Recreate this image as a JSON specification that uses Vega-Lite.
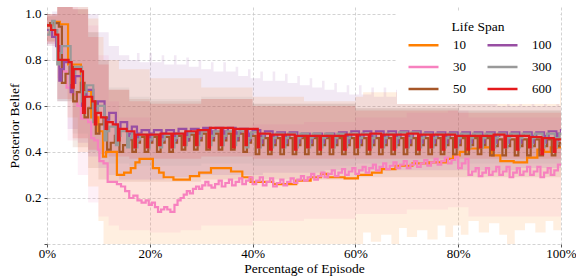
{
"$schema": "https://vega.github.io/schema/vega-lite/v6.json",
"width": 514, "height": 237,
"autosize": {"type": "none"},
"padding": {"left": 47, "top": 7, "right": 15, "bottom": 32},
"config": {
 "font": "Liberation Serif",
 "view": {"stroke": null},
 "axis": {"domain": false, "grid": true, "gridColor": "#c8c8c8", "gridDash": [3, 2], "gridWidth": 0.8, "tickColor": "#555555", "tickSize": 3, "labelFont": "Liberation Serif", "labelFontSize": 13, "labelColor": "#000000", "labelFlush": false, "titleFont": "Liberation Serif", "titleFontSize": 13.5, "titleFontWeight": "normal", "titleColor": "#000000"},
 "legend": {"labelFont": "Liberation Serif", "titleFont": "Liberation Serif", "titleFontWeight": "normal", "labelColor": "#000000", "titleColor": "#000000"}
},
"datasets": {
"bands": [
{"s":"10","p":0,"lo":0.88,"hi":0.99},{"s":"10","p":2,"lo":0.8,"hi":1.03},{"s":"10","p":4,"lo":0.55,"hi":1.03},{"s":"10","p":6,"lo":0.4,"hi":1.03},{"s":"10","p":8,"lo":0.25,"hi":0.98},{"s":"10","p":10,"lo":0.1,"hi":0.9},{"s":"10","p":11,"lo":0,"hi":0.8},{"s":"10","p":14,"lo":0,"hi":0.76},{"s":"10","p":20,"lo":0,"hi":0.72},{"s":"10","p":30,"lo":0,"hi":0.68},{"s":"10","p":40,"lo":0,"hi":0.64},{"s":"10","p":50,"lo":0,"hi":0.62},{"s":"10","p":60,"lo":0,"hi":0.64},{"s":"10","p":61.5,"lo":0.05,"hi":0.66},{"s":"10","p":63,"lo":0.01,"hi":0.66},{"s":"10","p":65,"lo":0.04,"hi":0.66},{"s":"10","p":67,"lo":0,"hi":0.66},{"s":"10","p":68.5,"lo":0.07,"hi":0.67},{"s":"10","p":70,"lo":0.03,"hi":0.67},{"s":"10","p":72,"lo":0.06,"hi":0.68},{"s":"10","p":74,"lo":0.02,"hi":0.68},{"s":"10","p":76,"lo":0.08,"hi":0.68},{"s":"10","p":77.5,"lo":0.03,"hi":0.7},{"s":"10","p":79,"lo":0.08,"hi":0.7},{"s":"10","p":80.5,"lo":0.04,"hi":0.7},{"s":"10","p":82,"lo":0.1,"hi":0.7},{"s":"10","p":84,"lo":0.05,"hi":0.7},{"s":"10","p":86,"lo":0.09,"hi":0.69},{"s":"10","p":88,"lo":0.04,"hi":0.69},{"s":"10","p":89.5,"lo":0,"hi":0.69},{"s":"10","p":91,"lo":0.06,"hi":0.7},{"s":"10","p":93,"lo":0.09,"hi":0.7},{"s":"10","p":95,"lo":0.05,"hi":0.71},{"s":"10","p":97,"lo":0.1,"hi":0.72},{"s":"10","p":98.5,"lo":0.06,"hi":0.72},{"s":"10","p":100,"lo":0.06,"hi":0.72},
{"s":"30","p":0,"lo":0.86,"hi":1.0},{"s":"30","p":2,"lo":0.72,"hi":1.03},{"s":"30","p":4,"lo":0.45,"hi":1.03},{"s":"30","p":6,"lo":0.3,"hi":1.0},{"s":"30","p":8,"lo":0.18,"hi":0.95},{"s":"30","p":10,"lo":0.12,"hi":0.82},{"s":"30","p":12,"lo":0.08,"hi":0.62},{"s":"30","p":14,"lo":0.06,"hi":0.55},{"s":"30","p":20,"lo":0.05,"hi":0.48},{"s":"30","p":26,"lo":0.06,"hi":0.48},{"s":"30","p":30,"lo":0.08,"hi":0.5},{"s":"30","p":40,"lo":0.1,"hi":0.52},{"s":"30","p":50,"lo":0.11,"hi":0.53},{"s":"30","p":60,"lo":0.13,"hi":0.55},{"s":"30","p":70,"lo":0.15,"hi":0.57},{"s":"30","p":78,"lo":0.16,"hi":0.58},{"s":"30","p":82,"lo":0.12,"hi":0.55},{"s":"30","p":90,"lo":0.12,"hi":0.55},{"s":"30","p":100,"lo":0.13,"hi":0.54},
{"s":"50","p":0,"lo":0.88,"hi":1.0},{"s":"50","p":2,"lo":0.62,"hi":1.03},{"s":"50","p":5,"lo":0.42,"hi":1.02},{"s":"50","p":8,"lo":0.33,"hi":0.92},{"s":"50","p":10,"lo":0.28,"hi":0.8},{"s":"50","p":12,"lo":0.27,"hi":0.67},{"s":"50","p":16,"lo":0.27,"hi":0.63},{"s":"50","p":20,"lo":0.27,"hi":0.62},{"s":"50","p":30,"lo":0.28,"hi":0.63},{"s":"50","p":40,"lo":0.28,"hi":0.61},{"s":"50","p":60,"lo":0.29,"hi":0.59},{"s":"50","p":80,"lo":0.29,"hi":0.58},{"s":"50","p":100,"lo":0.29,"hi":0.58},
{"s":"100","p":0,"lo":0.87,"hi":0.99},{"s":"100","p":1,"lo":0.8,"hi":1.01},{"s":"100","p":2,"lo":0.62,"hi":1.03},{"s":"100","p":4,"lo":0.5,"hi":1.03},{"s":"100","p":6,"lo":0.44,"hi":1.03},{"s":"100","p":8,"lo":0.38,"hi":1.0},{"s":"100","p":10,"lo":0.33,"hi":0.92},{"s":"100","p":12,"lo":0.3,"hi":0.86},{"s":"100","p":14,"lo":0.28,"hi":0.82},{"s":"100","p":16,"lo":0.28,"hi":0.8},
{"s":"100","p":17.5,"lo":0.28,"hi":0.83},{"s":"100","p":18,"lo":0.28,"hi":0.79},{"s":"100","p":19.9,"lo":0.28,"hi":0.83},{"s":"100","p":20.4,"lo":0.28,"hi":0.79},{"s":"100","p":22.3,"lo":0.28,"hi":0.82},{"s":"100","p":22.8,"lo":0.29,"hi":0.78},{"s":"100","p":24.7,"lo":0.29,"hi":0.82},{"s":"100","p":25.2,"lo":0.29,"hi":0.78},{"s":"100","p":27.1,"lo":0.29,"hi":0.81},{"s":"100","p":27.6,"lo":0.3,"hi":0.77},{"s":"100","p":29.5,"lo":0.3,"hi":0.8},{"s":"100","p":30,"lo":0.3,"hi":0.76},{"s":"100","p":31.9,"lo":0.3,"hi":0.79},{"s":"100","p":32.4,"lo":0.3,"hi":0.75},{"s":"100","p":34.3,"lo":0.3,"hi":0.79},{"s":"100","p":34.8,"lo":0.3,"hi":0.75},{"s":"100","p":36.7,"lo":0.3,"hi":0.77},{"s":"100","p":37.2,"lo":0.3,"hi":0.73},{"s":"100","p":39.1,"lo":0.3,"hi":0.76},{"s":"100","p":39.6,"lo":0.3,"hi":0.72},{"s":"100","p":41.5,"lo":0.3,"hi":0.75},{"s":"100","p":42,"lo":0.31,"hi":0.71},{"s":"100","p":43.9,"lo":0.31,"hi":0.75},{"s":"100","p":44.4,"lo":0.31,"hi":0.71},{"s":"100","p":46.3,"lo":0.31,"hi":0.74},{"s":"100","p":46.8,"lo":0.31,"hi":0.7},{"s":"100","p":48.7,"lo":0.31,"hi":0.73},{"s":"100","p":49.2,"lo":0.31,"hi":0.69},{"s":"100","p":51.1,"lo":0.31,"hi":0.72},{"s":"100","p":51.6,"lo":0.31,"hi":0.68},{"s":"100","p":53.5,"lo":0.31,"hi":0.71},{"s":"100","p":54,"lo":0.32,"hi":0.67},{"s":"100","p":55.9,"lo":0.32,"hi":0.7},{"s":"100","p":56.4,"lo":0.32,"hi":0.66},{"s":"100","p":58.3,"lo":0.32,"hi":0.69},{"s":"100","p":58.8,"lo":0.32,"hi":0.65},{"s":"100","p":60.7,"lo":0.32,"hi":0.69},{"s":"100","p":61.2,"lo":0.32,"hi":0.65},{"s":"100","p":63.1,"lo":0.32,"hi":0.68},{"s":"100","p":63.6,"lo":0.32,"hi":0.64},{"s":"100","p":65.5,"lo":0.32,"hi":0.68},{"s":"100","p":66,"lo":0.32,"hi":0.64},{"s":"100","p":67.9,"lo":0.32,"hi":0.67},{"s":"100","p":68.4,"lo":0.32,"hi":0.63},{"s":"100","p":70.3,"lo":0.32,"hi":0.67},{"s":"100","p":70.8,"lo":0.32,"hi":0.63},{"s":"100","p":72.7,"lo":0.32,"hi":0.66},{"s":"100","p":73.2,"lo":0.32,"hi":0.62},{"s":"100","p":75.1,"lo":0.32,"hi":0.66},{"s":"100","p":75.6,"lo":0.32,"hi":0.62},{"s":"100","p":77.5,"lo":0.32,"hi":0.65},{"s":"100","p":78,"lo":0.32,"hi":0.62},{"s":"100","p":79.9,"lo":0.32,"hi":0.65},{"s":"100","p":80.4,"lo":0.32,"hi":0.61},{"s":"100","p":82.3,"lo":0.32,"hi":0.65},{"s":"100","p":82.8,"lo":0.32,"hi":0.61},{"s":"100","p":84.7,"lo":0.32,"hi":0.64},{"s":"100","p":85.2,"lo":0.32,"hi":0.61},{"s":"100","p":87.1,"lo":0.32,"hi":0.64},{"s":"100","p":87.6,"lo":0.32,"hi":0.6},{"s":"100","p":89.5,"lo":0.32,"hi":0.64},{"s":"100","p":90,"lo":0.32,"hi":0.6},{"s":"100","p":91.9,"lo":0.33,"hi":0.63},{"s":"100","p":92.4,"lo":0.33,"hi":0.6},{"s":"100","p":94.3,"lo":0.33,"hi":0.63},{"s":"100","p":94.8,"lo":0.33,"hi":0.6},{"s":"100","p":96.7,"lo":0.33,"hi":0.63},{"s":"100","p":97.2,"lo":0.33,"hi":0.6},{"s":"100","p":99.1,"lo":0.33,"hi":0.63},{"s":"100","p":99.6,"lo":0.33,"hi":0.6},{"s":"100","p":100,"lo":0.33,"hi":0.6},
{"s":"300","p":0,"lo":0.86,"hi":1.0},{"s":"300","p":2,"lo":0.62,"hi":1.03},{"s":"300","p":5,"lo":0.48,"hi":1.02},{"s":"300","p":8,"lo":0.4,"hi":0.92},{"s":"300","p":10,"lo":0.37,"hi":0.8},{"s":"300","p":12,"lo":0.35,"hi":0.68},{"s":"300","p":16,"lo":0.34,"hi":0.64},{"s":"300","p":20,"lo":0.34,"hi":0.63},{"s":"300","p":30,"lo":0.35,"hi":0.64},{"s":"300","p":40,"lo":0.34,"hi":0.61},{"s":"300","p":60,"lo":0.35,"hi":0.59},{"s":"300","p":80,"lo":0.35,"hi":0.58},{"s":"300","p":100,"lo":0.35,"hi":0.58},
{"s":"600","p":0,"lo":0.87,"hi":1.0},{"s":"600","p":2,"lo":0.63,"hi":1.03},{"s":"600","p":5,"lo":0.46,"hi":1.02},{"s":"600","p":8,"lo":0.41,"hi":0.9},{"s":"600","p":10,"lo":0.39,"hi":0.78},{"s":"600","p":12,"lo":0.38,"hi":0.67},{"s":"600","p":16,"lo":0.37,"hi":0.62},{"s":"600","p":20,"lo":0.37,"hi":0.61},{"s":"600","p":30,"lo":0.38,"hi":0.63},{"s":"600","p":40,"lo":0.37,"hi":0.6},{"s":"600","p":60,"lo":0.37,"hi":0.58},{"s":"600","p":80,"lo":0.37,"hi":0.57},{"s":"600","p":100,"lo":0.37,"hi":0.57}
],
"lines": [
{"s":"10","p":0,"v":0.95},{"s":"10","p":1.2,"v":0.965},{"s":"10","p":2.5,"v":0.955},{"s":"10","p":4.1,"v":0.78},{"s":"10","p":6.6,"v":0.665},{"s":"10","p":8.6,"v":0.55},{"s":"10","p":10,"v":0.49},{"s":"10","p":10.9,"v":0.38},{"s":"10","p":11.5,"v":0.4},{"s":"10","p":13.6,"v":0.3},{"s":"10","p":15,"v":0.31},{"s":"10","p":16.3,"v":0.33},{"s":"10","p":17.2,"v":0.355},{"s":"10","p":18,"v":0.37},{"s":"10","p":20.6,"v":0.33},{"s":"10","p":21.8,"v":0.31},{"s":"10","p":22.7,"v":0.29},{"s":"10","p":24.6,"v":0.28},{"s":"10","p":27.8,"v":0.295},{"s":"10","p":29.6,"v":0.31},{"s":"10","p":31.9,"v":0.33},{"s":"10","p":35.8,"v":0.315},{"s":"10","p":38,"v":0.29},{"s":"10","p":39.6,"v":0.27},{"s":"10","p":44,"v":0.26},{"s":"10","p":48.5,"v":0.275},{"s":"10","p":51.3,"v":0.29},{"s":"10","p":53.3,"v":0.305},{"s":"10","p":54.6,"v":0.29},{"s":"10","p":57.9,"v":0.285},{"s":"10","p":60.5,"v":0.3},{"s":"10","p":63.2,"v":0.31},{"s":"10","p":65.1,"v":0.325},{"s":"10","p":67.8,"v":0.34},{"s":"10","p":71.1,"v":0.35},{"s":"10","p":74.3,"v":0.355},{"s":"10","p":77.6,"v":0.37},{"s":"10","p":79,"v":0.385},{"s":"10","p":80.3,"v":0.4},{"s":"10","p":81.6,"v":0.415},{"s":"10","p":84.2,"v":0.42},{"s":"10","p":86.6,"v":0.385},{"s":"10","p":88.2,"v":0.36},{"s":"10","p":90.8,"v":0.355},{"s":"10","p":93.4,"v":0.375},{"s":"10","p":95.4,"v":0.41},{"s":"10","p":96.7,"v":0.4},{"s":"10","p":98,"v":0.42},{"s":"10","p":100,"v":0.42},
{"s":"30","p":0,"v":0.93},{"s":"30","p":1,"v":0.9},{"s":"30","p":2,"v":0.86},{"s":"30","p":3,"v":0.75},{"s":"30","p":3.8,"v":0.68},{"s":"30","p":4.9,"v":0.65},{"s":"30","p":5.9,"v":0.6},{"s":"30","p":6.6,"v":0.545},{"s":"30","p":8,"v":0.53},{"s":"30","p":8.6,"v":0.46},{"s":"30","p":9.2,"v":0.45},{"s":"30","p":9.9,"v":0.41},{"s":"30","p":10.2,"v":0.36},{"s":"30","p":11,"v":0.35},{"s":"30","p":11.8,"v":0.27},{"s":"30","p":12.8,"v":0.27},{"s":"30","p":13.6,"v":0.26},{"s":"30","p":14.4,"v":0.25},{"s":"30","p":15.2,"v":0.23},{"s":"30","p":16,"v":0.2},{"s":"30","p":16.8,"v":0.21},{"s":"30","p":17.6,"v":0.19},{"s":"30","p":18.4,"v":0.18},{"s":"30","p":19.2,"v":0.19},{"s":"30","p":19.8,"v":0.17},{"s":"30","p":20.4,"v":0.18},{"s":"30","p":21,"v":0.16},{"s":"30","p":21.6,"v":0.14},{"s":"30","p":22.2,"v":0.15},{"s":"30","p":22.8,"v":0.16},{"s":"30","p":23.4,"v":0.15},{"s":"30","p":24,"v":0.14},{"s":"30","p":24.8,"v":0.17},{"s":"30","p":25.4,"v":0.19},{"s":"30","p":26,"v":0.2},{"s":"30","p":26.6,"v":0.215},{"s":"30","p":27.2,"v":0.23},{"s":"30","p":27.8,"v":0.22},{"s":"30","p":28.4,"v":0.24},{"s":"30","p":29,"v":0.25},{"s":"30","p":29.6,"v":0.24},{"s":"30","p":30.2,"v":0.255},{"s":"30","p":30.8,"v":0.27},{"s":"30","p":31.4,"v":0.255},
{"s":"30","p":32,"v":0.245},{"s":"30","p":32.7,"v":0.26},{"s":"30","p":33.4,"v":0.275},
{"s":"30","p":34,"v":0.25},{"s":"30","p":34.7,"v":0.265},{"s":"30","p":35.4,"v":0.28},
{"s":"30","p":36,"v":0.255},{"s":"30","p":36.7,"v":0.27},{"s":"30","p":37.4,"v":0.285},
{"s":"30","p":38,"v":0.26},{"s":"30","p":38.7,"v":0.275},{"s":"30","p":39.4,"v":0.29},
{"s":"30","p":40,"v":0.26},{"s":"30","p":40.7,"v":0.275},{"s":"30","p":41.4,"v":0.29},
{"s":"30","p":42,"v":0.255},{"s":"30","p":42.7,"v":0.27},{"s":"30","p":43.4,"v":0.285},
{"s":"30","p":44,"v":0.25},{"s":"30","p":44.7,"v":0.265},{"s":"30","p":45.4,"v":0.28},
{"s":"30","p":46,"v":0.255},{"s":"30","p":46.7,"v":0.27},{"s":"30","p":47.4,"v":0.285},
{"s":"30","p":48,"v":0.265},{"s":"30","p":48.7,"v":0.28},{"s":"30","p":49.4,"v":0.295},
{"s":"30","p":50,"v":0.275},{"s":"30","p":50.7,"v":0.29},{"s":"30","p":51.4,"v":0.305},
{"s":"30","p":52,"v":0.28},{"s":"30","p":52.7,"v":0.295},{"s":"30","p":53.4,"v":0.31},
{"s":"30","p":54,"v":0.29},{"s":"30","p":54.7,"v":0.305},{"s":"30","p":55.4,"v":0.32},
{"s":"30","p":56,"v":0.295},{"s":"30","p":56.7,"v":0.31},{"s":"30","p":57.4,"v":0.325},
{"s":"30","p":58,"v":0.3},{"s":"30","p":58.7,"v":0.315},{"s":"30","p":59.4,"v":0.33},
{"s":"30","p":60,"v":0.305},{"s":"30","p":60.7,"v":0.32},{"s":"30","p":61.4,"v":0.335},
{"s":"30","p":62,"v":0.31},{"s":"30","p":62.7,"v":0.33},{"s":"30","p":63.4,"v":0.345},
{"s":"30","p":64,"v":0.32},{"s":"30","p":64.7,"v":0.335},{"s":"30","p":65.4,"v":0.35},
{"s":"30","p":66,"v":0.325},{"s":"30","p":66.7,"v":0.34},{"s":"30","p":67.4,"v":0.355},
{"s":"30","p":68,"v":0.33},{"s":"30","p":68.7,"v":0.345},{"s":"30","p":69.4,"v":0.36},
{"s":"30","p":70,"v":0.33},{"s":"30","p":70.7,"v":0.345},{"s":"30","p":71.4,"v":0.36},
{"s":"30","p":72,"v":0.335},{"s":"30","p":72.7,"v":0.35},{"s":"30","p":73.4,"v":0.365},
{"s":"30","p":74,"v":0.34},{"s":"30","p":74.7,"v":0.355},{"s":"30","p":75.4,"v":0.37},
{"s":"30","p":76,"v":0.345},{"s":"30","p":76.7,"v":0.36},{"s":"30","p":77.4,"v":0.375},
{"s":"30","p":78,"v":0.35},{"s":"30","p":78.7,"v":0.365},{"s":"30","p":79.4,"v":0.38},
{"s":"30","p":80,"v":0.33},{"s":"30","p":80.7,"v":0.35},{"s":"30","p":81.4,"v":0.37},
{"s":"30","p":82,"v":0.3},{"s":"30","p":82.7,"v":0.315},{"s":"30","p":83.4,"v":0.33},
{"s":"30","p":84,"v":0.295},{"s":"30","p":84.7,"v":0.31},{"s":"30","p":85.4,"v":0.33},
{"s":"30","p":86,"v":0.3},{"s":"30","p":86.7,"v":0.315},{"s":"30","p":87.4,"v":0.335},
{"s":"30","p":88,"v":0.3},{"s":"30","p":88.7,"v":0.315},{"s":"30","p":89.4,"v":0.335},
{"s":"30","p":90,"v":0.29},{"s":"30","p":90.7,"v":0.31},{"s":"30","p":91.4,"v":0.33},
{"s":"30","p":92,"v":0.3},{"s":"30","p":92.7,"v":0.315},{"s":"30","p":93.4,"v":0.335},
{"s":"30","p":94,"v":0.3},{"s":"30","p":94.7,"v":0.315},{"s":"30","p":95.4,"v":0.335},
{"s":"30","p":96,"v":0.29},{"s":"30","p":96.7,"v":0.31},{"s":"30","p":97.4,"v":0.33},
{"s":"30","p":98,"v":0.3},{"s":"30","p":98.7,"v":0.32},{"s":"30","p":99.4,"v":0.345},{"s":"30","p":100,"v":0.34},
{"s":"50","p":0,"v":0.95},{"s":"50","p":0.6,"v":0.96},{"s":"50","p":2.3,"v":0.945},
{"s":"50","p":2.9,"v":0.7},{"s":"50","p":3.6,"v":0.74},{"s":"50","p":4.4,"v":0.77},
{"s":"50","p":5.1,"v":0.62},{"s":"50","p":5.8,"v":0.66},{"s":"50","p":6.6,"v":0.7},
{"s":"50","p":7.3,"v":0.55},{"s":"50","p":8,"v":0.59},{"s":"50","p":8.8,"v":0.62},
{"s":"50","p":9.5,"v":0.48},{"s":"50","p":10.2,"v":0.52},{"s":"50","p":11,"v":0.55},
{"s":"50","p":11.7,"v":0.41},{"s":"50","p":12.4,"v":0.44},{"s":"50","p":13.2,"v":0.47},
{"s":"50","p":14.1,"v":0.4},{"s":"50","p":14.8,"v":0.43},{"s":"50","p":15.6,"v":0.455},
{"s":"50","p":16.6,"v":0.4},{"s":"50","p":17.3,"v":0.44},{"s":"50","p":18.1,"v":0.465},
{"s":"50","p":19,"v":0.4},{"s":"50","p":19.7,"v":0.44},{"s":"50","p":20.5,"v":0.465},
{"s":"50","p":21.4,"v":0.4},{"s":"50","p":22.1,"v":0.44},{"s":"50","p":22.9,"v":0.465},
{"s":"50","p":23.8,"v":0.4},{"s":"50","p":24.5,"v":0.44},{"s":"50","p":25.3,"v":0.47},
{"s":"50","p":26.2,"v":0.41},{"s":"50","p":26.9,"v":0.45},{"s":"50","p":27.7,"v":0.475},
{"s":"50","p":28.6,"v":0.41},{"s":"50","p":29.3,"v":0.45},{"s":"50","p":30.1,"v":0.48},
{"s":"50","p":31,"v":0.41},{"s":"50","p":31.7,"v":0.45},{"s":"50","p":32.5,"v":0.48},
{"s":"50","p":33.4,"v":0.41},{"s":"50","p":34.1,"v":0.45},{"s":"50","p":34.9,"v":0.48},
{"s":"50","p":35.8,"v":0.41},{"s":"50","p":36.5,"v":0.45},{"s":"50","p":37.3,"v":0.48},
{"s":"50","p":38.2,"v":0.4},{"s":"50","p":38.9,"v":0.44},{"s":"50","p":39.7,"v":0.47},
{"s":"50","p":40.6,"v":0.39},{"s":"50","p":41.3,"v":0.43},{"s":"50","p":42.1,"v":0.46},
{"s":"50","p":43,"v":0.39},{"s":"50","p":43.7,"v":0.43},{"s":"50","p":44.5,"v":0.46},
{"s":"50","p":45.4,"v":0.39},{"s":"50","p":46.1,"v":0.43},{"s":"50","p":46.9,"v":0.46},
{"s":"50","p":47.8,"v":0.39},{"s":"50","p":48.5,"v":0.43},{"s":"50","p":49.3,"v":0.46},
{"s":"50","p":50.2,"v":0.39},{"s":"50","p":50.9,"v":0.43},{"s":"50","p":51.7,"v":0.46},
{"s":"50","p":52.6,"v":0.39},{"s":"50","p":53.3,"v":0.43},{"s":"50","p":54.1,"v":0.46},
{"s":"50","p":55,"v":0.39},{"s":"50","p":55.7,"v":0.43},{"s":"50","p":56.5,"v":0.46},
{"s":"50","p":57.4,"v":0.39},{"s":"50","p":58.1,"v":0.43},{"s":"50","p":58.9,"v":0.46},
{"s":"50","p":59.8,"v":0.39},{"s":"50","p":60.5,"v":0.43},{"s":"50","p":61.3,"v":0.46},
{"s":"50","p":62.2,"v":0.39},{"s":"50","p":62.9,"v":0.43},{"s":"50","p":63.7,"v":0.46},
{"s":"50","p":64.6,"v":0.39},{"s":"50","p":65.3,"v":0.43},{"s":"50","p":66.1,"v":0.46},
{"s":"50","p":67,"v":0.39},{"s":"50","p":67.7,"v":0.43},{"s":"50","p":68.5,"v":0.46},
{"s":"50","p":69.4,"v":0.39},{"s":"50","p":70.1,"v":0.43},{"s":"50","p":70.9,"v":0.46},
{"s":"50","p":71.8,"v":0.39},{"s":"50","p":72.5,"v":0.43},{"s":"50","p":73.3,"v":0.46},
{"s":"50","p":74.2,"v":0.39},{"s":"50","p":74.9,"v":0.43},{"s":"50","p":75.7,"v":0.46},
{"s":"50","p":76.6,"v":0.39},{"s":"50","p":77.3,"v":0.43},{"s":"50","p":78.1,"v":0.46},
{"s":"50","p":79,"v":0.39},{"s":"50","p":79.7,"v":0.43},{"s":"50","p":80.5,"v":0.46},
{"s":"50","p":81.4,"v":0.39},{"s":"50","p":82.1,"v":0.43},{"s":"50","p":82.9,"v":0.46},
{"s":"50","p":83.8,"v":0.39},{"s":"50","p":84.5,"v":0.43},{"s":"50","p":85.3,"v":0.46},
{"s":"50","p":86.2,"v":0.385},{"s":"50","p":86.9,"v":0.425},{"s":"50","p":87.7,"v":0.455},
{"s":"50","p":88.6,"v":0.385},{"s":"50","p":89.3,"v":0.425},{"s":"50","p":90.1,"v":0.455},
{"s":"50","p":91,"v":0.385},{"s":"50","p":91.7,"v":0.425},{"s":"50","p":92.5,"v":0.455},
{"s":"50","p":93.4,"v":0.385},{"s":"50","p":94.1,"v":0.425},{"s":"50","p":94.9,"v":0.455},
{"s":"50","p":95.8,"v":0.385},{"s":"50","p":96.5,"v":0.425},{"s":"50","p":97.3,"v":0.455},
{"s":"50","p":98.2,"v":0.385},{"s":"50","p":98.9,"v":0.425},{"s":"50","p":99.7,"v":0.44},{"s":"50","p":100,"v":0.44},
{"s":"100","p":0,"v":0.93},{"s":"100","p":1,"v":0.9},{"s":"100","p":1.8,"v":0.86},
{"s":"100","p":2.4,"v":0.71},{"s":"100","p":2.8,"v":0.76},{"s":"100","p":3.3,"v":0.79},
{"s":"100","p":4.6,"v":0.66},{"s":"100","p":5,"v":0.7},{"s":"100","p":5.5,"v":0.73},
{"s":"100","p":6.8,"v":0.6},{"s":"100","p":7.2,"v":0.64},{"s":"100","p":7.7,"v":0.67},
{"s":"100","p":9,"v":0.55},{"s":"100","p":9.4,"v":0.59},{"s":"100","p":9.9,"v":0.62},
{"s":"100","p":11.2,"v":0.5},{"s":"100","p":11.6,"v":0.54},{"s":"100","p":12.1,"v":0.57},
{"s":"100","p":13.4,"v":0.46},{"s":"100","p":13.8,"v":0.5},{"s":"100","p":14.3,"v":0.53},
{"s":"100","p":15.6,"v":0.45},{"s":"100","p":16,"v":0.48},{"s":"100","p":16.5,"v":0.51},
{"s":"100","p":17.5,"v":0.45},{"s":"100","p":17.9,"v":0.48},{"s":"100","p":18.4,"v":0.495},
{"s":"100","p":19.9,"v":0.45},{"s":"100","p":20.3,"v":0.48},{"s":"100","p":20.8,"v":0.495},
{"s":"100","p":22.3,"v":0.45},{"s":"100","p":22.7,"v":0.48},{"s":"100","p":23.2,"v":0.495},
{"s":"100","p":24.7,"v":0.45},{"s":"100","p":25.1,"v":0.48},{"s":"100","p":25.6,"v":0.5},
{"s":"100","p":27.1,"v":0.45},{"s":"100","p":27.5,"v":0.485},{"s":"100","p":28,"v":0.5},
{"s":"100","p":29.5,"v":0.46},{"s":"100","p":29.9,"v":0.49},{"s":"100","p":30.4,"v":0.505},
{"s":"100","p":31.9,"v":0.46},{"s":"100","p":32.3,"v":0.49},{"s":"100","p":32.8,"v":0.505},
{"s":"100","p":34.3,"v":0.46},{"s":"100","p":34.7,"v":0.49},{"s":"100","p":35.2,"v":0.505},
{"s":"100","p":36.7,"v":0.455},{"s":"100","p":37.1,"v":0.485},{"s":"100","p":37.6,"v":0.5},
{"s":"100","p":39.1,"v":0.45},{"s":"100","p":39.5,"v":0.48},{"s":"100","p":40,"v":0.495},
{"s":"100","p":41.5,"v":0.44},{"s":"100","p":41.9,"v":0.47},{"s":"100","p":42.4,"v":0.49},
{"s":"100","p":43.9,"v":0.44},{"s":"100","p":44.3,"v":0.47},{"s":"100","p":44.8,"v":0.485},
{"s":"100","p":46.3,"v":0.44},{"s":"100","p":46.7,"v":0.47},{"s":"100","p":47.2,"v":0.485},
{"s":"100","p":48.7,"v":0.44},{"s":"100","p":49.1,"v":0.465},{"s":"100","p":49.6,"v":0.48},
{"s":"100","p":51.1,"v":0.44},{"s":"100","p":51.5,"v":0.465},{"s":"100","p":52,"v":0.48},
{"s":"100","p":53.5,"v":0.44},{"s":"100","p":53.9,"v":0.465},{"s":"100","p":54.4,"v":0.48},
{"s":"100","p":55.9,"v":0.44},{"s":"100","p":56.3,"v":0.47},{"s":"100","p":56.8,"v":0.485},
{"s":"100","p":58.3,"v":0.44},{"s":"100","p":58.7,"v":0.47},{"s":"100","p":59.2,"v":0.49},
{"s":"100","p":60.7,"v":0.44},{"s":"100","p":61.1,"v":0.47},{"s":"100","p":61.6,"v":0.49},
{"s":"100","p":63.1,"v":0.44},{"s":"100","p":63.5,"v":0.47},{"s":"100","p":64,"v":0.49},
{"s":"100","p":65.5,"v":0.44},{"s":"100","p":65.9,"v":0.47},{"s":"100","p":66.4,"v":0.49},
{"s":"100","p":67.9,"v":0.44},{"s":"100","p":68.3,"v":0.47},{"s":"100","p":68.8,"v":0.49},
{"s":"100","p":70.3,"v":0.44},{"s":"100","p":70.7,"v":0.47},{"s":"100","p":71.2,"v":0.49},
{"s":"100","p":72.7,"v":0.44},{"s":"100","p":73.1,"v":0.47},{"s":"100","p":73.6,"v":0.485},
{"s":"100","p":75.1,"v":0.44},{"s":"100","p":75.5,"v":0.47},{"s":"100","p":76,"v":0.485},
{"s":"100","p":77.5,"v":0.44},{"s":"100","p":77.9,"v":0.47},{"s":"100","p":78.4,"v":0.485},
{"s":"100","p":79.9,"v":0.44},{"s":"100","p":80.3,"v":0.47},{"s":"100","p":80.8,"v":0.485},
{"s":"100","p":82.3,"v":0.44},{"s":"100","p":82.7,"v":0.47},{"s":"100","p":83.2,"v":0.485},
{"s":"100","p":84.7,"v":0.44},{"s":"100","p":85.1,"v":0.47},{"s":"100","p":85.6,"v":0.485},
{"s":"100","p":87.1,"v":0.44},{"s":"100","p":87.5,"v":0.47},{"s":"100","p":88,"v":0.485},
{"s":"100","p":89.5,"v":0.44},{"s":"100","p":89.9,"v":0.47},{"s":"100","p":90.4,"v":0.485},
{"s":"100","p":91.9,"v":0.44},{"s":"100","p":92.3,"v":0.47},{"s":"100","p":92.8,"v":0.485},
{"s":"100","p":94.3,"v":0.44},{"s":"100","p":94.7,"v":0.47},{"s":"100","p":95.2,"v":0.485},
{"s":"100","p":96.7,"v":0.44},{"s":"100","p":97.1,"v":0.47},{"s":"100","p":97.6,"v":0.49},
{"s":"100","p":99.1,"v":0.45},{"s":"100","p":99.5,"v":0.48},{"s":"100","p":100,"v":0.5},
{"s":"300","p":0,"v":0.91},{"s":"300","p":0.5,"v":0.93},{"s":"300","p":1,"v":0.97},{"s":"300","p":1.5,"v":0.93},
{"s":"300","p":2,"v":0.78},{"s":"300","p":2.4,"v":0.83},{"s":"300","p":2.9,"v":0.86},
{"s":"300","p":4.6,"v":0.7},{"s":"300","p":5,"v":0.74},{"s":"300","p":5.5,"v":0.77},
{"s":"300","p":6.8,"v":0.62},{"s":"300","p":7.2,"v":0.66},{"s":"300","p":7.7,"v":0.69},
{"s":"300","p":9,"v":0.53},{"s":"300","p":9.4,"v":0.57},{"s":"300","p":9.9,"v":0.6},
{"s":"300","p":11.2,"v":0.45},{"s":"300","p":11.6,"v":0.49},{"s":"300","p":12.1,"v":0.51},
{"s":"300","p":13.4,"v":0.43},{"s":"300","p":13.8,"v":0.47},{"s":"300","p":14.3,"v":0.49},
{"s":"300","p":15.6,"v":0.42},{"s":"300","p":16,"v":0.46},{"s":"300","p":16.5,"v":0.48},
{"s":"300","p":17.2,"v":0.42},{"s":"300","p":17.6,"v":0.455},{"s":"300","p":18.1,"v":0.475},
{"s":"300","p":19.6,"v":0.42},{"s":"300","p":20,"v":0.455},{"s":"300","p":20.5,"v":0.475},
{"s":"300","p":22,"v":0.42},{"s":"300","p":22.4,"v":0.455},{"s":"300","p":22.9,"v":0.475},
{"s":"300","p":24.4,"v":0.42},{"s":"300","p":24.8,"v":0.46},{"s":"300","p":25.3,"v":0.48},
{"s":"300","p":26.8,"v":0.43},{"s":"300","p":27.2,"v":0.465},{"s":"300","p":27.7,"v":0.485},
{"s":"300","p":29.2,"v":0.43},{"s":"300","p":29.6,"v":0.47},{"s":"300","p":30.1,"v":0.49},
{"s":"300","p":31.6,"v":0.43},{"s":"300","p":32,"v":0.47},{"s":"300","p":32.5,"v":0.49},
{"s":"300","p":34,"v":0.43},{"s":"300","p":34.4,"v":0.47},{"s":"300","p":34.9,"v":0.49},
{"s":"300","p":36.4,"v":0.43},{"s":"300","p":36.8,"v":0.47},{"s":"300","p":37.3,"v":0.49},
{"s":"300","p":38.8,"v":0.42},{"s":"300","p":39.2,"v":0.46},{"s":"300","p":39.7,"v":0.485},
{"s":"300","p":41.2,"v":0.42},{"s":"300","p":41.6,"v":0.46},{"s":"300","p":42.1,"v":0.48},
{"s":"300","p":43.6,"v":0.42},{"s":"300","p":44,"v":0.46},{"s":"300","p":44.5,"v":0.48},
{"s":"300","p":46,"v":0.42},{"s":"300","p":46.4,"v":0.46},{"s":"300","p":46.9,"v":0.48},
{"s":"300","p":48.4,"v":0.42},{"s":"300","p":48.8,"v":0.46},{"s":"300","p":49.3,"v":0.48},
{"s":"300","p":50.8,"v":0.42},{"s":"300","p":51.2,"v":0.46},{"s":"300","p":51.7,"v":0.48},
{"s":"300","p":53.2,"v":0.42},{"s":"300","p":53.6,"v":0.46},{"s":"300","p":54.1,"v":0.48},
{"s":"300","p":55.6,"v":0.42},{"s":"300","p":56,"v":0.46},{"s":"300","p":56.5,"v":0.48},
{"s":"300","p":58,"v":0.42},{"s":"300","p":58.4,"v":0.46},{"s":"300","p":58.9,"v":0.48},
{"s":"300","p":60.4,"v":0.42},{"s":"300","p":60.8,"v":0.46},{"s":"300","p":61.3,"v":0.48},
{"s":"300","p":62.8,"v":0.42},{"s":"300","p":63.2,"v":0.46},{"s":"300","p":63.7,"v":0.48},
{"s":"300","p":65.2,"v":0.42},{"s":"300","p":65.6,"v":0.46},{"s":"300","p":66.1,"v":0.48},
{"s":"300","p":67.6,"v":0.42},{"s":"300","p":68,"v":0.46},{"s":"300","p":68.5,"v":0.485},
{"s":"300","p":70,"v":0.42},{"s":"300","p":70.4,"v":0.46},{"s":"300","p":70.9,"v":0.485},
{"s":"300","p":72.4,"v":0.42},{"s":"300","p":72.8,"v":0.46},{"s":"300","p":73.3,"v":0.48},
{"s":"300","p":74.8,"v":0.42},{"s":"300","p":75.2,"v":0.46},{"s":"300","p":75.7,"v":0.48},
{"s":"300","p":77.2,"v":0.42},{"s":"300","p":77.6,"v":0.46},{"s":"300","p":78.1,"v":0.48},
{"s":"300","p":79.6,"v":0.42},{"s":"300","p":80,"v":0.46},{"s":"300","p":80.5,"v":0.48},
{"s":"300","p":82,"v":0.42},{"s":"300","p":82.4,"v":0.46},{"s":"300","p":82.9,"v":0.48},
{"s":"300","p":84.4,"v":0.42},{"s":"300","p":84.8,"v":0.46},{"s":"300","p":85.3,"v":0.48},
{"s":"300","p":86.8,"v":0.42},{"s":"300","p":87.2,"v":0.46},{"s":"300","p":87.7,"v":0.48},
{"s":"300","p":89.2,"v":0.42},{"s":"300","p":89.6,"v":0.46},{"s":"300","p":90.1,"v":0.48},
{"s":"300","p":91.6,"v":0.42},{"s":"300","p":92,"v":0.46},{"s":"300","p":92.5,"v":0.48},
{"s":"300","p":94,"v":0.42},{"s":"300","p":94.4,"v":0.46},{"s":"300","p":94.9,"v":0.48},
{"s":"300","p":96.4,"v":0.42},{"s":"300","p":96.8,"v":0.46},{"s":"300","p":97.3,"v":0.48},
{"s":"300","p":98.8,"v":0.42},{"s":"300","p":99.2,"v":0.46},{"s":"300","p":99.7,"v":0.48},{"s":"300","p":100,"v":0.48},
{"s":"600","p":0,"v":0.95},{"s":"600","p":0.8,"v":0.93},{"s":"600","p":1.6,"v":0.91},{"s":"600","p":2.2,"v":0.8},{"s":"600","p":4.2,"v":0.79},{"s":"600","p":4.8,"v":0.68},{"s":"600","p":5.2,"v":0.76},{"s":"600","p":6.6,"v":0.75},{"s":"600","p":7,"v":0.57},{"s":"600","p":7.4,"v":0.64},{"s":"600","p":8.8,"v":0.62},{"s":"600","p":9.3,"v":0.52},{"s":"600","p":9.6,"v":0.57},{"s":"600","p":10.5,"v":0.55},{"s":"600","p":11.4,"v":0.5},{"s":"600","p":11.7,"v":0.53},{"s":"600","p":12.8,"v":0.52},{"s":"600","p":13.8,"v":0.45},{"s":"600","p":14.1,"v":0.5},{"s":"600","p":15.5,"v":0.49},
{"s":"600","p":17,"v":0.42},{"s":"600","p":17.3,"v":0.475},
{"s":"600","p":19.4,"v":0.42},{"s":"600","p":19.7,"v":0.475},
{"s":"600","p":21.8,"v":0.43},{"s":"600","p":22.1,"v":0.48},
{"s":"600","p":24.2,"v":0.42},{"s":"600","p":24.5,"v":0.48},
{"s":"600","p":26.6,"v":0.43},{"s":"600","p":26.9,"v":0.49},
{"s":"600","p":29,"v":0.43},{"s":"600","p":29.3,"v":0.495},
{"s":"600","p":31.4,"v":0.42},{"s":"600","p":31.7,"v":0.505},
{"s":"600","p":33.8,"v":0.43},{"s":"600","p":34.1,"v":0.505},
{"s":"600","p":36.2,"v":0.42},{"s":"600","p":36.5,"v":0.5},
{"s":"600","p":38.6,"v":0.43},{"s":"600","p":38.9,"v":0.5},
{"s":"600","p":41,"v":0.42},{"s":"600","p":41.3,"v":0.48},
{"s":"600","p":43.4,"v":0.41},{"s":"600","p":43.7,"v":0.475},
{"s":"600","p":45.8,"v":0.42},{"s":"600","p":46.1,"v":0.475},
{"s":"600","p":48.2,"v":0.41},{"s":"600","p":48.5,"v":0.47},
{"s":"600","p":50.6,"v":0.42},{"s":"600","p":50.9,"v":0.47},
{"s":"600","p":53,"v":0.41},{"s":"600","p":53.3,"v":0.47},
{"s":"600","p":55.4,"v":0.42},{"s":"600","p":55.7,"v":0.47},
{"s":"600","p":57.8,"v":0.41},{"s":"600","p":58.1,"v":0.475},
{"s":"600","p":60.2,"v":0.42},{"s":"600","p":60.5,"v":0.475},
{"s":"600","p":62.6,"v":0.41},{"s":"600","p":62.9,"v":0.48},
{"s":"600","p":65,"v":0.42},{"s":"600","p":65.3,"v":0.475},
{"s":"600","p":67.4,"v":0.41},{"s":"600","p":67.7,"v":0.475},
{"s":"600","p":69.8,"v":0.42},{"s":"600","p":70.1,"v":0.48},
{"s":"600","p":72.2,"v":0.41},{"s":"600","p":72.5,"v":0.475},
{"s":"600","p":74.6,"v":0.42},{"s":"600","p":74.9,"v":0.475},
{"s":"600","p":77,"v":0.41},{"s":"600","p":77.3,"v":0.475},
{"s":"600","p":79.4,"v":0.42},{"s":"600","p":79.7,"v":0.47},
{"s":"600","p":81.8,"v":0.41},{"s":"600","p":82.1,"v":0.47},
{"s":"600","p":84.2,"v":0.42},{"s":"600","p":84.5,"v":0.47},
{"s":"600","p":86.6,"v":0.41},{"s":"600","p":86.9,"v":0.475},
{"s":"600","p":89,"v":0.42},{"s":"600","p":89.3,"v":0.47},
{"s":"600","p":91.4,"v":0.41},{"s":"600","p":91.7,"v":0.47},
{"s":"600","p":93.8,"v":0.42},{"s":"600","p":94.1,"v":0.465},
{"s":"600","p":96.2,"v":0.39},{"s":"600","p":96.5,"v":0.46},
{"s":"600","p":98.6,"v":0.4},{"s":"600","p":98.9,"v":0.455},{"s":"600","p":100,"v":0.455}
]
},
"layer": [
 {
  "data": {"name": "bands"},
  "mark": {"type": "area", "interpolate": "step-after", "opacity": 0.12, "clip": true},
  "encoding": {
   "x": {"field": "p", "type": "quantitative", "scale": {"domain": [0, 100], "nice": false},
         "axis": {"values": [0, 20, 40, 60, 80, 100], "labelExpr": "datum.value + '%'", "title": "Percentage of Episode", "labelPadding": 0, "titlePadding": 1}},
   "y": {"field": "lo", "type": "quantitative", "scale": {"domain": [0, 1.03], "nice": false, "zero": false},
         "axis": {"values": [0, 0.2, 0.4, 0.6, 0.8, 1.0], "labelExpr": "datum.value == 0 ? '' : format(datum.value, '.1f')", "title": "Posterior Belief", "labelPadding": 3, "titlePadding": 3}},
   "y2": {"field": "hi"},
   "fill": {"field": "s", "type": "nominal",
             "scale": {"domain": ["600", "300", "100", "50", "30", "10"], "range": ["#e41a1c", "#999999", "#984ea3", "#a65628", "#f781bf", "#ff7f00"]},
             "legend": null}
  }
 },
 {
  "data": {"name": "lines"},
  "mark": {"type": "line", "interpolate": "step-after", "strokeWidth": 2.2, "clip": true},
  "encoding": {
   "x": {"field": "p", "type": "quantitative",
         "axis": {"values": [0, 20, 40, 60, 80, 100], "labelExpr": "datum.value + '%'", "title": "Percentage of Episode", "labelPadding": 0, "titlePadding": 1}},
   "y": {"field": "v", "type": "quantitative",
         "axis": {"values": [0, 0.2, 0.4, 0.6, 0.8, 1.0], "labelExpr": "datum.value == 0 ? '' : format(datum.value, '.1f')", "title": "Posterior Belief", "labelPadding": 3, "titlePadding": 3}},
   "color": {"field": "s", "type": "nominal",
             "scale": {"domain": ["10", "30", "50", "100", "300", "600"], "range": ["#ff7f00", "#f781bf", "#a65628", "#984ea3", "#999999", "#e41a1c"]},
             "legend": {"title": "Life Span", "orient": "none", "legendX": 350, "legendY": 5, "columns": 2, "columnPadding": 16, "rowPadding": 3,
                        "symbolType": "M-0.8,0L2.2,0", "symbolSize": 400, "symbolStrokeWidth": 2.5, "labelOffset": 25,
                        "labelFont": "Liberation Serif", "labelFontSize": 13, "labelColor": "#000000",
                        "titleFont": "Liberation Serif", "titleFontSize": 13.5, "titleFontWeight": "normal", "titleColor": "#000000", "titleAnchor": "middle", "titlePadding": 0,
                        "padding": 8, "fillColor": "#ffffff"}}
  }
 }
]
}
